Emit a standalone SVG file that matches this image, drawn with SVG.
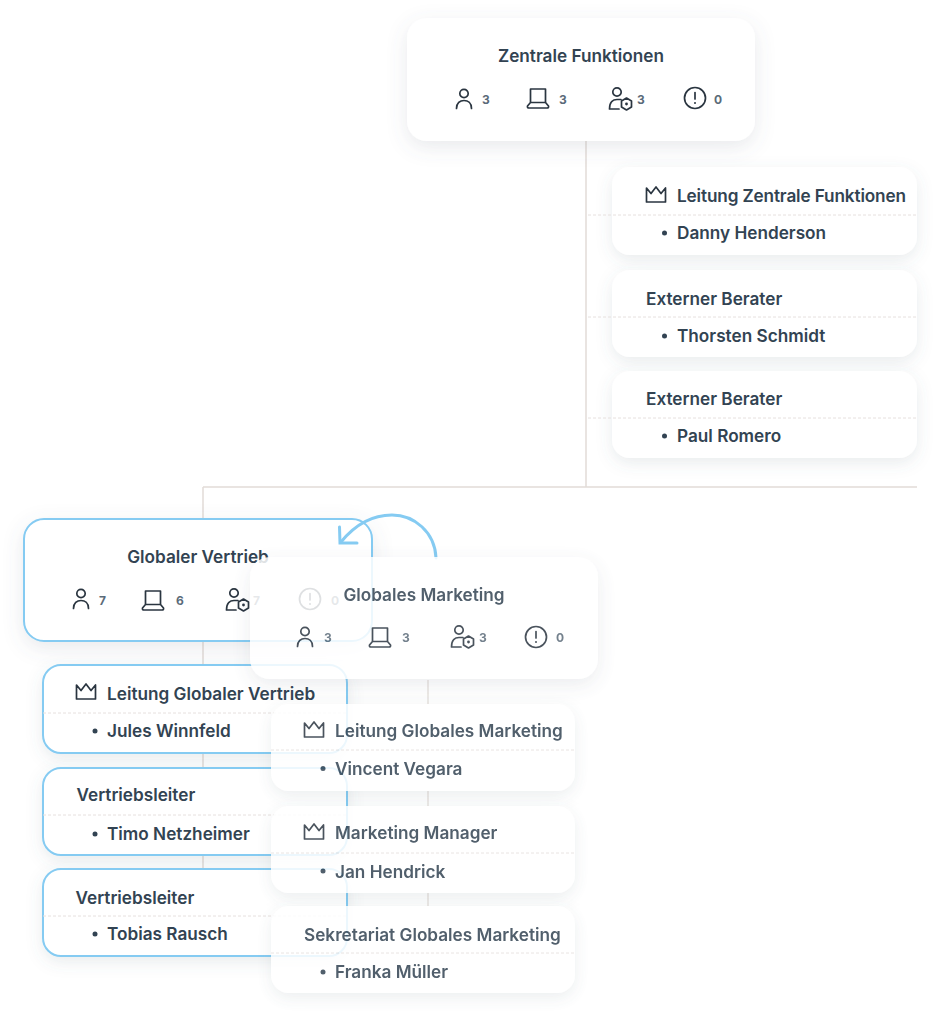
<svg xmlns="http://www.w3.org/2000/svg" width="941" height="1024" viewBox="0 0 941 1024">
<defs>
<style>
text{font-family:Inter,"Liberation Sans",sans-serif;font-weight:600;fill:#324352}
.t{font-size:17.200px}
.c{font-size:12px;fill:#5b6b79;font-weight:700}
.b{fill:#fff;filter:url(#s)}
.l{fill:#fff;filter:url(#s2)}
.sel{stroke:#85cbf2;stroke-width:2}
.d{stroke:#e6e0de;stroke-width:1;stroke-dasharray:3 2;fill:none}
.w{stroke:#e2dcd8;stroke-width:1.500;fill:none}
.i{fill:none;stroke:#2a3540;stroke-width:1.700;stroke-linecap:round;stroke-linejoin:round}
.dot{fill:#324352}
</style>
<filter id="s" x="-20%" y="-30%" width="140%" height="170%"><feDropShadow dx="0" dy="6" stdDeviation="10" flood-color="#5a6a78" flood-opacity=".14"/></filter>
<filter id="s2" x="-20%" y="-30%" width="140%" height="170%"><feDropShadow dx="0" dy="5" stdDeviation="8" flood-color="#5a6a78" flood-opacity=".13"/></filter>
<g id="person"><circle cx="0" cy="-5.500" r="4.200" class="i"/><path class="i" d="M-7.500 9.500C-7.500 4-4 1.500 0 1.500S7.500 4 7.500 9.500"/></g>
<g id="laptop"><path class="i" d="M-7.500-9H7.500V4.500H-7.500ZM-7.500 4.500L-10.500 8Q-11 10-9 10H9Q11 10 10.500 8L7.500 4.500"/></g>
<g id="admin"><circle cx="-3" cy="-7" r="4.200" class="i"/><path class="i" d="M-10.500 10C-10.500 3-7 .5-3 .5H1M-10.500 10H-1"/><path class="i" d="M6.500-1L11.500 2V8L6.500 11L1.500 8V2Z"/><circle cx="6.500" cy="5" r="1.400" fill="#2a3540"/></g>
<g id="alert"><circle r="10.500" class="i"/><path class="i" d="M0-5.500V1"/><circle cy="5" r="1" fill="#2a3540"/></g>
<path id="crown" class="i" d="M-9.500-7L-5-1.500L0-8L5-1.500L9.500-7V7H-9.500Z"/>
</defs>
<rect width="941" height="1024" fill="#fff"/>
<g id="connectors">
<path class="w" d="M586 141V487M203 487H917M203 487V868"/>
</g>
<g id="zentrale-funktionen">
<rect class="b" x="407" y="18" width="348" height="123" rx="20"/>
<text class="t" x="581" y="62" text-anchor="middle">Zentrale Funktionen</text>
<use href="#person" x="464" y="99"/><text class="c" x="482" y="103.500">3</text>
<use href="#laptop" x="538" y="98"/><text class="c" x="559" y="103.500">3</text>
<use href="#admin" x="620" y="99"/><text class="c" x="637" y="103.500">3</text>
<use href="#alert" x="695" y="98"/><text class="c" x="714" y="103.500">0</text>
</g>
<g id="leitung-zentrale">
<rect class="l" x="612" y="167" width="305" height="88" rx="18"/>
<path class="d" d="M588 215H917"/>
<use href="#crown" x="656" y="195"/>
<text class="t" x="677" y="201.500" textLength="229">Leitung Zentrale Funktionen</text>
<circle class="dot" cx="664.500" cy="233" r="2.500"/><text class="t" x="677" y="239">Danny Henderson</text>
</g>
<g id="berater-1">
<rect class="l" x="612" y="270" width="305" height="87" rx="18"/>
<path class="d" d="M588 317H917"/>
<text class="t" x="646" y="304.500">Externer Berater</text>
<circle class="dot" cx="664.500" cy="336" r="2.500"/><text class="t" x="677" y="341.500">Thorsten Schmidt</text>
</g>
<g id="berater-2">
<rect class="l" x="612" y="371" width="305" height="87" rx="18"/>
<path class="d" d="M588 418H917"/>
<text class="t" x="646" y="405">Externer Berater</text>
<circle class="dot" cx="664.500" cy="436" r="2.500"/><text class="t" x="677" y="442">Paul Romero</text>
</g>
<g id="globaler-vertrieb">
<rect class="b sel" x="24" y="519" width="348" height="122" rx="20"/>
<text class="t" x="198" y="563" text-anchor="middle">Globaler Vertrieb</text>
<use href="#person" x="81" y="599"/><text class="c" x="99" y="604.500">7</text>
<use href="#laptop" x="153" y="600"/><text class="c" x="176" y="604.500">6</text>
<use href="#admin" x="237" y="600"/><text class="c" x="253" y="604.500">7</text>
<use href="#alert" x="310" y="599"/><text class="c" x="331" y="604.500">0</text>
</g>
<g id="leitung-vertrieb">
<rect class="l sel" x="43" y="665" width="304" height="88" rx="18"/>
<path class="d" d="M43 713H347"/>
<use href="#crown" x="86" y="692"/>
<text class="t" x="107" y="699.500">Leitung Globaler Vertrieb</text>
<circle class="dot" cx="95" cy="731" r="2.500"/><text class="t" x="107" y="737">Jules Winnfeld</text>
</g>
<g id="vertriebsleiter-1">
<rect class="l sel" x="43" y="768" width="304" height="87" rx="18"/>
<path class="d" d="M43 815H347"/>
<text class="t" x="76.500" y="800.500">Vertriebsleiter</text>
<circle class="dot" cx="95" cy="834" r="2.500"/><text class="t" x="107" y="839.500">Timo Netzheimer</text>
</g>
<g id="vertriebsleiter-2">
<rect class="l sel" x="43" y="869" width="304" height="87" rx="18"/>
<path class="d" d="M43 916H347"/>
<text class="t" x="75.500" y="903.500">Vertriebsleiter</text>
<circle class="dot" cx="95" cy="934" r="2.500"/><text class="t" x="107" y="940">Tobias Rausch</text>
</g>
<g id="move-arrow" fill="none" stroke="#85cbf2" stroke-width="3" stroke-linecap="round">
<path d="M436 558C435 532 414 515 392 515C371 515 354 526 341 542"/>
<path d="M339.500 527L340 543H357"/>
</g>
<g id="dragged" opacity=".85">
<path class="w" d="M428 680V906"/>
<g id="globales-marketing">
<rect class="b" x="250" y="557" width="348" height="122" rx="20"/>
<text class="t" x="424" y="600.500" text-anchor="middle">Globales Marketing</text>
<use href="#person" x="305" y="637"/><text class="c" x="324" y="642">3</text>
<use href="#laptop" x="380" y="637"/><text class="c" x="402" y="642">3</text>
<use href="#admin" x="462" y="637"/><text class="c" x="479" y="642">3</text>
<use href="#alert" x="536" y="637"/><text class="c" x="556" y="642">0</text>
</g>
<g id="leitung-marketing">
<rect class="l" x="271" y="704" width="304" height="87" rx="18"/>
<path class="d" d="M271 750H575"/>
<use href="#crown" x="314" y="730"/>
<text class="t" x="335" y="737">Leitung Globales Marketing</text>
<circle class="dot" cx="323" cy="768.500" r="2.500"/><text class="t" x="335" y="774.500">Vincent Vegara</text>
</g>
<g id="marketing-manager">
<rect class="l" x="271" y="806" width="304" height="87" rx="18"/>
<path class="d" d="M271 853H575"/>
<use href="#crown" x="314" y="832"/>
<text class="t" x="335" y="839">Marketing Manager</text>
<circle class="dot" cx="323" cy="871" r="2.500"/><text class="t" x="335" y="877.500">Jan Hendrick</text>
</g>
<g id="sekretariat">
<rect class="l" x="271" y="906" width="304" height="87" rx="18"/>
<path class="d" d="M271 953H575"/>
<text class="t" x="304" y="941">Sekretariat Globales Marketing</text>
<circle class="dot" cx="323" cy="972" r="2.500"/><text class="t" x="335" y="978">Franka Müller</text>
</g>
</g>
</svg>
